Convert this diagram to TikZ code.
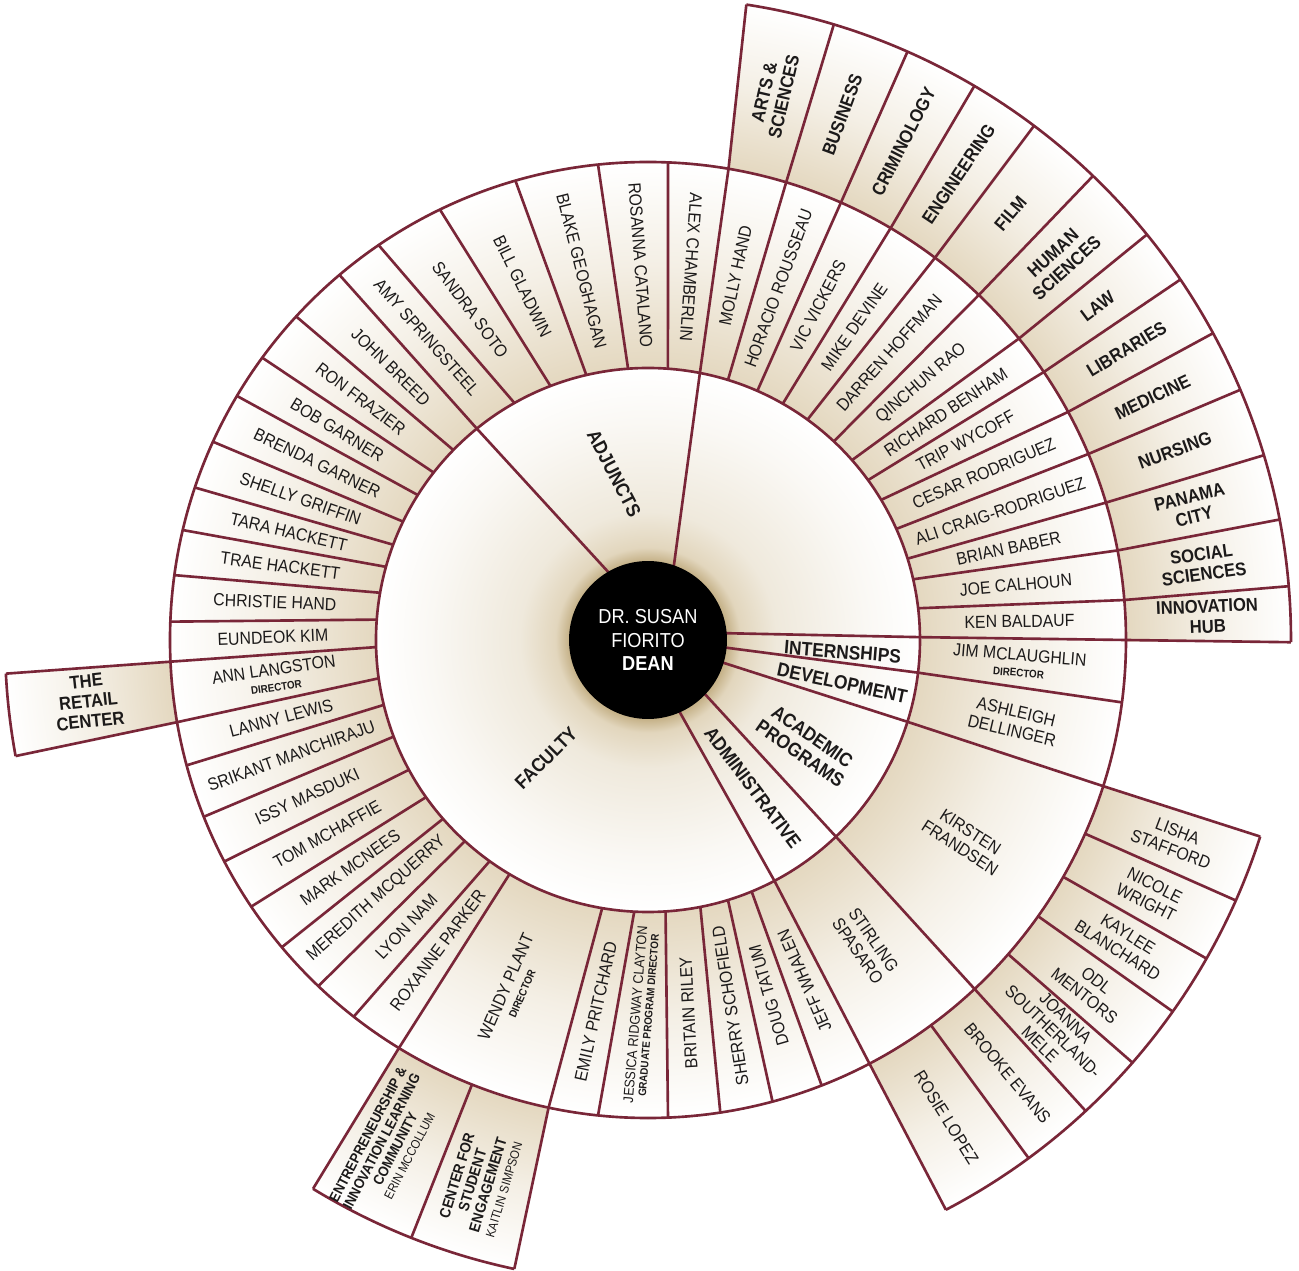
\documentclass[tikz,border=0pt]{standalone}
\usepackage{fontspec}
\setmainfont{Liberation Sans}[FakeStretch=0.9]
\definecolor{wine}{RGB}{121,38,56}
\definecolor{ink}{RGB}{28,26,26}
\definecolor{glow}{RGB}{196,176,134}
\definecolor{sandA}{RGB}{226,214,189}
\definecolor{sandB}{RGB}{239,233,220}
\definecolor{sandC}{RGB}{250,248,244}
\definecolor{ringin}{RGB}{228,216,192}
\definecolor{ringmid}{RGB}{244,239,229}
\definecolor{paper}{RGB}{255,255,255}
\pgfdeclareradialshading{rings}{\pgfpoint{0bp}{0bp}}{%
  color(0bp)=(glow); color(3.05bp)=(glow); color(3.6bp)=(sandA);
  color(5bp)=(sandB); color(8.5bp)=(sandC); color(10.55bp)=(paper);
  color(10.62bp)=(ringin); color(14.6bp)=(ringmid); color(18.55bp)=(paper);
  color(18.62bp)=(ringin); color(21.8bp)=(ringmid); color(25bp)=(paper);
  color(50bp)=(paper)}
\newcommand\dirfont{\fontsize{6.2}{7}\selectfont\bfseries}
\newcommand\leadfont{\fontsize{7.2}{8.5}\selectfont\mdseries}
\begin{document}
\begin{tikzpicture}[x=0.02cm,y=0.02cm,
  wall/.style={draw=wine,line width=1.5pt,line join=round},
  person/.style={font=\fontsize{10}{11}\selectfont,text=ink,align=center,inner sep=0pt},
  college/.style={font=\fontsize{10.5}{11.5}\selectfont\bfseries,text=ink,align=center,inner sep=0pt},
  division/.style={font=\fontsize{11}{12}\selectfont\bfseries,text=ink,align=center,inner sep=0pt},
  dean/.style={circle,fill=black,text=white,minimum size=3.16cm,align=center,inner sep=0pt,
    font=\fontsize{11.5}{13.5}\selectfont}]
\useasboundingbox (-648,-631) rectangle (651,640);

% shaded rings
\begin{scope}
\clip (0,0) circle (479)
  (-0.2:477) -- (-0.2:643) arc[start angle=-0.2,end angle=81.2,radius=643] -- (80.3:477) arc[start angle=80.3,end angle=-0.2,radius=477] -- cycle
  (-62.4:477) -- (-62.4:643) arc[start angle=-62.4,end angle=-17.8,radius=643] -- (-17.8:477) arc[start angle=-17.8,end angle=-62.4,radius=477] -- cycle
  (238.6:477) -- (238.6:643) arc[start angle=238.6,end angle=258,radius=643] -- (258:477) arc[start angle=258,end angle=238.6,radius=477] -- cycle
  (182.6:477) -- (183:643) arc[start angle=183,end angle=190.4,radius=643] -- (189.9:477) arc[start angle=189.9,end angle=182.6,radius=477] -- cycle;
\shade[shading=rings] (0,0) circle (643);
\end{scope}

\draw[wall] (0,0) circle (272);
\draw[wall] (0,0) circle (478);

% outer arcs
\draw[wall] (-0.2:643) arc[start angle=-0.2,end angle=81.2,radius=643];
\draw[wall] (-62.4:643) arc[start angle=-62.4,end angle=-17.8,radius=643];
\draw[wall] (238.6:643) arc[start angle=238.6,end angle=258,radius=643];
\draw[wall] (183:643) arc[start angle=183,end angle=190.4,radius=643];

% division lines
\draw[wall] (70.7:78) -- (79:272) -- (80.3:478) -- (81.2:643);
\draw[wall] (120.2:78) -- (129:272) -- (130.2:478);
\draw[wall] (5:78) -- (0.6:272) -- (0:478) -- (-0.2:643);
\draw[wall] (-5.6:78) -- (-6.9:272) -- (-7.5:478);
\draw[wall] (-16.8:78) -- (-17.5:272) -- (-17.8:478) -- (-17.8:643);
\draw[wall] (-43.5:78) -- (-46.3:272) -- (-46.9:478) -- (-47.1:643);
\draw[wall] (-66.3:78) -- (-62.3:272) -- (-62.4:478) -- (-62.4:643);

% name lines, colleges side
\draw[wall] (6.7:272) -- (4.8:478) -- (4.8:643);
\draw[wall] (12.9:272) -- (10.8:478) -- (10.8:643);
\draw[wall] (17.4:272) -- (16.7:478) -- (16.7:643);
\draw[wall] (24.1:272) -- (22.9:478) -- (22.9:643);
\draw[wall] (31:272) -- (28.5:478) -- (28.5:643);
\draw[wall] (36:272) -- (34.1:478) -- (34.1:643);
\draw[wall] (41.4:272) -- (39.1:478) -- (39.1:643);
\draw[wall] (46.9:272) -- (46.2:478) -- (46.2:643);
\draw[wall] (54.1:272) -- (53.1:478) -- (53.1:643);
\draw[wall] (60.3:272) -- (59.5:478) -- (59.5:643);
\draw[wall] (66.3:272) -- (66.2:478) -- (66.2:643);
\draw[wall] (72.9:272) -- (73.2:478) -- (73.2:643);

% name lines, top and left
\draw[wall] (85.8:272) -- (87.6:478);
\draw[wall] (94.2:272) -- (96:478);
\draw[wall] (103.1:272) -- (106.1:478);
\draw[wall] (111:272) -- (115.8:478);
\draw[wall] (119.4:272) -- (124.3:478);
\draw[wall] (135.7:272) -- (137.4:478);
\draw[wall] (142:272) -- (143.8:478);
\draw[wall] (147.8:272) -- (149.3:478);
\draw[wall] (154.2:272) -- (155.5:478);
\draw[wall] (159.5:272) -- (161.4:478);
\draw[wall] (164.4:272) -- (166.7:478);
\draw[wall] (170:272) -- (172.2:478);
\draw[wall] (175.7:272) -- (177.8:478);
\draw[wall] (181.5:272) -- (182.6:478) -- (183:643);
\draw[wall] (188.1:272) -- (189.9:478) -- (190.4:643);
\draw[wall] (193.8:272) -- (195.2:478);
\draw[wall] (200.8:272) -- (201.7:478);
\draw[wall] (208.5:272) -- (207.6:478);
\draw[wall] (215.3:272) -- (213.9:478);
\draw[wall] (221.1:272) -- (220:478);
\draw[wall] (227.7:272) -- (226.4:478);
\draw[wall] (234.4:272) -- (232:478);
\draw[wall] (239.4:272) -- (238.6:478) -- (238.6:643);
\draw[wall] (260.3:272) -- (258:478) -- (258:643);
\draw[wall] (267.1:272) -- (264:478);
\draw[wall] (273.7:272) -- (272.4:478);
\draw[wall] (281.1:272) -- (278.7:478);
\draw[wall] (287.1:272) -- (285.1:478);
\draw[wall] (292.4:272) -- (291.3:478);

% outer ring only
\draw[wall] (248.4:478) -- (248.4:643);
\draw[wall] (-23.9:478) -- (-23.9:643);
\draw[wall] (-29.7:478) -- (-29.7:643);
\draw[wall] (-35.3:478) -- (-35.3:643);
\draw[wall] (-41.1:478) -- (-41.1:643);
\draw[wall] (-53.7:478) -- (-53.7:643);

\node[dean] (dean) at (0,0) {DR. SUSAN\\FIORITO\\\textbf{DEAN}};

% divisions
\node[division,rotate=-62.5] (adjuncts) at (101.5:170) {ADJUNCTS};
\node[division,rotate=45] (faculty) at (229.2:156) {FACULTY};
\node[division,rotate=-53] (administrative) at (305.4:181) {ADMINISTRATIVE};
\node[division,rotate=-35] (academic) at (326.4:190) {ACADEMIC\\PROGRAMS};
\node[division,rotate=-12] (development) at (347.5:199) {DEVELOPMENT};
\node[division,rotate=-4.5] (internships) at (356.5:195) {INTERNSHIPS};

% people
\node[person,rotate=-55.1] (stirling) at (-54.5:375) {STIRLING\\SPASARO};
\node[person,rotate=-32.9] (kirsten) at (-32.2:375) {KIRSTEN\\FRANDSEN};
\node[person,rotate=-13.2] (ashleigh) at (-12.5:375) {ASHLEIGH\\DELLINGER};
\node[person,rotate=-4.5] (jim) at (-3.5:372) {JIM MCLAUGHLIN\\[-2pt]{\dirfont DIRECTOR}};
\node[person,rotate=0.8] (ken) at (2.85:372) {KEN BALDAUF};
\node[person,rotate=5.2] (joe) at (8.5:372) {JOE CALHOUN};
\node[person,rotate=11.9] (brian) at (14.25:372) {BRIAN BABER};
\node[person,rotate=18.5] (ali) at (20.1:375) {ALI CRAIG-RODRIGUEZ};
\node[person,rotate=23.3] (cesar) at (26.4:375) {CESAR RODRIGUEZ};
\node[person,rotate=28.4] (trip) at (32.1:375) {TRIP WYCOFF};
\node[person,rotate=33.8] (richard) at (37.4:375) {RICHARD BENHAM};
\node[person,rotate=40.7] (qinchun) at (43.2:375) {QINCHUN RAO};
\node[person,rotate=48.5] (darren) at (49.95:375) {DARREN HOFFMAN};
\node[person,rotate=55.1] (mike) at (56.6:375) {MIKE DEVINE};
\node[person,rotate=62.3] (vic) at (63:375) {VIC VICKERS};
\node[person,rotate=69.8] (horacio) at (69.65:375) {HORACIO ROUSSEAU};
\node[person,rotate=77.8] (molly) at (76.5:375) {MOLLY HAND};
\node[person,rotate=-94] (alex) at (83.4:375) {ALEX CHAMBERLIN};
\node[person,rotate=-85.8] (rosanna) at (91.15:375) {ROSANNA CATALANO};
\node[person,rotate=-75.8] (blake) at (100.2:375) {BLAKE GEOGHAGAN};
\node[person,rotate=-63.9] (bill) at (109.55:375) {BILL GLADWIN};
\node[person,rotate=-53.5] (sandra) at (118.3:375) {SANDRA SOTO};
\node[person,rotate=-48.7] (amy) at (126.15:375) {AMY SPRINGSTEEL};
\node[person,rotate=-44.3] (john) at (133.3:375) {JOHN BREED};
\node[person,rotate=-37.1] (ron) at (140:375) {RON FRAZIER};
\node[person,rotate=-31.3] (bob) at (145.95:375) {BOB GARNER};
\node[person,rotate=-25.8] (brenda) at (151.9:375) {BRENDA GARNER};
\node[person,rotate=-19.4] (shelly) at (157.9:375) {SHELLY GRIFFIN};
\node[person,rotate=-13.2] (tara) at (163.3:375) {TARA HACKETT};
\node[person,rotate=-7.6] (trae) at (168.6:375) {TRAE HACKETT};
\node[person,rotate=-2.2] (christie) at (174.2:375) {CHRISTIE HAND};
\node[person,rotate=2.3] (eundeok) at (179.6:375) {EUNDEOK KIM};
\node[person,rotate=8.2] (ann) at (185.7:375) {ANN LANGSTON\\[-2pt]{\dirfont DIRECTOR}};
\node[person,rotate=14.7] (lanny) at (192:375) {LANNY LEWIS};
\node[person,rotate=20] (srikant) at (198:375) {SRIKANT MANCHIRAJU};
\node[person,rotate=24.6] (issy) at (204.65:375) {ISSY MASDUKI};
\node[person,rotate=29.2] (tom) at (211.2:375) {TOM MCHAFFIE};
\node[person,rotate=35.3] (mark) at (217.4:375) {MARK MCNEES};
\node[person,rotate=41.6] (meredith) at (223.6:375) {MEREDITH MCQUERRY};
\node[person,rotate=46.8] (lyon) at (229.9:375) {LYON NAM};
\node[person,rotate=53.2] (roxanne) at (235.9:375) {ROXANNE PARKER};
\node[person,rotate=66.3] (wendy) at (248.9:375) {WENDY PLANT\\[-2pt]{\dirfont DIRECTOR}};
\node[person,rotate=77.4] (emily) at (262:375) {EMILY PRITCHARD};
\node[person,rotate=85.3,font=\fontsize{8}{9}\selectfont] (jessica) at (269:375) {JESSICA RIDGWAY CLAYTON\\[-2pt]{\dirfont GRADUATE PROGRAM DIRECTOR}};
\node[person,rotate=93.1] (britain) at (276.2:375) {BRITAIN RILEY};
\node[person,rotate=99] (sherry) at (282.7:375) {SHERRY SCHOFIELD};
\node[person,rotate=106.2] (doug) at (288.8:375) {DOUG TATUM};
\node[person,rotate=113.7] (jeff) at (294.7:375) {JEFF WHALEN};

% colleges
\node[college,rotate=77] (arts) at (77:560) {ARTS \&\\SCIENCES};
\node[college,rotate=69.7] (business) at (69.7:560) {BUSINESS};
\node[college,rotate=62.85] (criminology) at (62.85:560) {CRIMINOLOGY};
\node[college,rotate=56.3] (engineering) at (56.3:560) {ENGINEERING};
\node[college,rotate=49.65] (film) at (49.65:560) {FILM};
\node[college,rotate=42.65] (human) at (42.65:560) {HUMAN\\SCIENCES};
\node[college,rotate=36.6] (law) at (36.6:560) {LAW};
\node[college,rotate=31.3] (libraries) at (31.3:560) {LIBRARIES};
\node[college,rotate=25.7] (medicine) at (25.7:560) {MEDICINE};
\node[college,rotate=19.8] (nursing) at (19.8:560) {NURSING};
\node[college,rotate=13.75] (panama) at (13.75:560) {PANAMA\\CITY};
\node[college,rotate=7.8] (social) at (7.8:560) {SOCIAL\\SCIENCES};
\node[college,rotate=2.4] (innovation) at (2.4:560) {INNOVATION\\HUB};

% lower right team
\node[person,rotate=-20.85] (lisha) at (-20.85:563) {LISHA\\STAFFORD};
\node[person,rotate=-26.8] (nicole) at (-26.8:563) {NICOLE\\WRIGHT};
\node[person,rotate=-32.5] (kaylee) at (-32.5:563) {KAYLEE\\BLANCHARD};
\node[person,rotate=-38.2] (odl) at (-38.2:563) {ODL\\MENTORS};
\node[person,rotate=-44,font=\fontsize{10}{10.5}\selectfont] (joanna) at (-44:563) {JOANNA\\SOUTHERLAND-\\MELE};
\node[person,rotate=-50.3] (brooke) at (-50.3:563) {BROOKE EVANS};
\node[person,rotate=-58] (rosie) at (-58:563) {ROSIE LOPEZ};

% retail and student centers
\node[college,rotate=6.25] (retail) at (186.25:563) {THE\\RETAIL\\CENTER};
\node[college,rotate=62.5,font=\fontsize{8.2}{8.8}\selectfont\bfseries] (eilc) at (242.8:568)
  {ENTREPRENEURSHIP \&\\INNOVATION LEARNING\\COMMUNITY\\{\leadfont ERIN MCCOLLUM}};
\node[college,rotate=73,font=\fontsize{8.6}{9.2}\selectfont\bfseries] (cse) at (252.8:568)
  {CENTER FOR\\STUDENT\\ENGAGEMENT\\{\leadfont KAITLIN SIMPSON}};
\end{tikzpicture}
\end{document}
